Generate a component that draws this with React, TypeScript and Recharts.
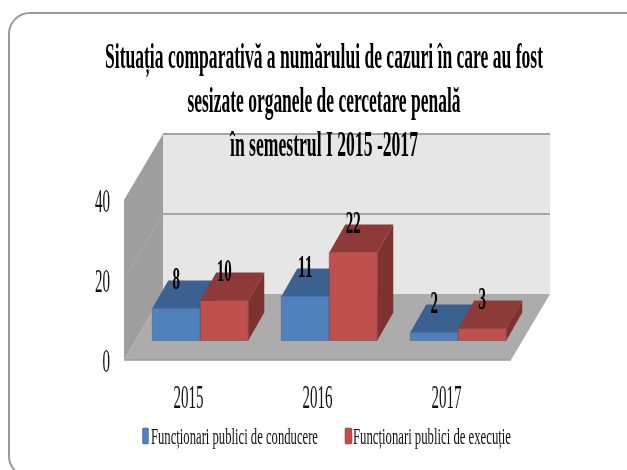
import { Bar, BarChart, LabelList, Legend, XAxis, YAxis, usePlotArea } from "recharts";

const categories = ["2015", "2016", "2017"];
const conducere = [8, 11, 2];
const executie = [10, 22, 3];
const yTicks = [0, 20, 40];
const seriesNames = ["Funcționari publici de conducere", "Funcționari publici de execuție"];
const titleLines = [
  "Situația comparativă a numărului de cazuri în care au fost",
  "sesizate organele de cercetare penală",
  "în semestrul I 2015 -2017",
];

const data = categories.map((year, i) => ({
  year,
  conducere: conducere[i],
  executie: executie[i],
}));

const YMAX = 40;
const WALL_DX = 39;
const WALL_DY = -66;
const BAR_DX = 11.5;
const BAR_DY = -19.5;
const BOX_DX = 16;
const BOX_DY = -28;
const SERIF = "'Liberation Serif', serif";

// squeezed text: the reference is a horizontally compressed picture
function Squeezed(props: any) {
  const { x, y, width, sx = 0.55, anchor = "middle", size, weight = "normal", fill = "#111", children } = props;
  return (
    <text
      transform={`translate(${x},${y}) scale(${sx},1)`}
      textAnchor={anchor}
      fontFamily={SERIF}
      fontSize={size}
      fontWeight={weight}
      fill={fill}
      textLength={width / sx}
      lengthAdjust="spacingAndGlyphs"
    >
      {children}
    </text>
  );
}

function Walls() {
  const plot = usePlotArea();
  if (!plot) return null;
  const left = plot.x;
  const right = plot.x + plot.width;
  const bottom = plot.y + plot.height;
  const top = plot.y;
  const mid = top + plot.height / 2;
  const backL = left + WALL_DX;
  const backR = right + WALL_DX;
  return (
    <g>
      <polygon
        points={`${backL},${top + WALL_DY} ${backR},${top + WALL_DY} ${backR},${bottom + WALL_DY} ${backL},${bottom + WALL_DY}`}
        fill="#e6e6e6"
      />
      <polygon
        points={`${left},${top} ${backL},${top + WALL_DY} ${backL},${bottom + WALL_DY} ${left},${bottom}`}
        fill="#9e9e9e"
      />
      <polygon
        points={`${left},${bottom} ${right},${bottom} ${backR},${bottom + WALL_DY} ${backL},${bottom + WALL_DY}`}
        fill="#acacac"
      />
      <line x1={backL} y1={top + WALL_DY} x2={backR} y2={top + WALL_DY} stroke="#a3a3a3" strokeWidth={2} />
      <line x1={backL} y1={mid + WALL_DY} x2={backR} y2={mid + WALL_DY} stroke="#a3a3a3" strokeWidth={2} />
      <line x1={left} y1={mid} x2={backL} y2={mid + WALL_DY} stroke="#aaaaaa" strokeWidth={1} />
      <line x1={left} y1={bottom} x2={right} y2={bottom} stroke="#9a9a9a" strokeWidth={1.5} />
    </g>
  );
}

function Box(props: any) {
  const { x, y, width, height, front, roof, side } = props;
  const l = x + BAR_DX;
  const r = l + width;
  const t = y + BAR_DY;
  const b = t + height;
  return (
    <g>
      <polygon points={`${l},${t} ${r},${t} ${r + BOX_DX},${t + BOX_DY} ${l + BOX_DX},${t + BOX_DY}`} fill={roof} />
      <polygon points={`${r},${t} ${r + BOX_DX},${t + BOX_DY} ${r + BOX_DX},${b + BOX_DY} ${r},${b}`} fill={side} />
      <rect x={l} y={t} width={width} height={height} fill={front} stroke={side} strokeOpacity={0.45} strokeWidth={1} />
    </g>
  );
}

function BoxLabel(props: any) {
  const { x, y, width, value } = props;
  const text = String(value);
  return (
    <Squeezed
      x={x + BAR_DX + width / 2}
      y={y + BAR_DY - 20}
      size={32}
      weight="bold"
      fill="#000"
      width={text.length * 7.5}
    >
      {text}
    </Squeezed>
  );
}

function YTick(props: any) {
  const { x, y, payload } = props;
  const text = String(payload.value);
  return (
    <Squeezed x={x - 2} y={y + 12} anchor="end" size={33} width={text.length * 7.5}>
      {text}
    </Squeezed>
  );
}

function XTick(props: any) {
  const { x, y, payload } = props;
  return (
    <Squeezed x={x} y={y + 40} size={33} width={30}>
      {payload.value}
    </Squeezed>
  );
}

function LegendRow() {
  return (
    <svg width={627} height={30} style={{ display: "block" }}>
      <rect x={142.5} y={7} width={6} height={16} rx={1} fill="#4f81bd" stroke="#3b6190" strokeWidth={0.5} />
      <Squeezed x={151} y={23} anchor="start" size={24} width={167}>
        {seriesNames[0]}
      </Squeezed>
      <rect x={345} y={7} width={7} height={16} rx={1} fill="#c0504d" stroke="#8e3a38" strokeWidth={0.5} />
      <Squeezed x={353} y={23} anchor="start" size={24} width={158}>
        {seriesNames[1]}
      </Squeezed>
    </svg>
  );
}

function Title() {
  const baselines = [68, 112, 156];
  const widths = [438, 273, 188];
  return (
    <g>
      {titleLines.map((line, i) => (
        <Squeezed key={line} x={324} y={baselines[i]} size={35} weight="bold" fill="#000" width={widths[i]} sx={0.5}>
          {line}
        </Squeezed>
      ))}
    </g>
  );
}

export default function App() {
  return (
    <div style={{ position: "absolute", left: 0, top: 0, width: 627, height: 470, background: "#fff", overflow: "hidden" }}>
      <div
        style={{
          position: "absolute",
          left: 8,
          top: 12,
          width: 640,
          height: 466,
          boxSizing: "border-box",
          border: "2px solid #999",
          borderRadius: 22,
        }}
      />
      <div style={{ position: "absolute", left: 0, top: 0, filter: "blur(0.4px)" }}>
        <BarChart
          width={627}
          height={470}
          data={data}
          margin={{ top: 200, right: 116, bottom: 40, left: 64 }}
          barCategoryGap="13%"
          barGap={0}
        >
          <Walls />
          <XAxis dataKey="year" height={40} axisLine={false} tickLine={false} tick={<XTick />} interval={0} />
          <YAxis
            domain={[0, YMAX]}
            ticks={yTicks}
            width={60}
            axisLine={false}
            tickLine={false}
            tick={<YTick />}
            tickMargin={6}
          />
          <Bar
            dataKey="conducere"
            name={seriesNames[0]}
            isAnimationActive={false}
            shape={<Box front="#4f81bd" roof="#3b6190" side="#385d8a" />}
          >
            <LabelList dataKey="conducere" content={<BoxLabel />} />
          </Bar>
          <Bar
            dataKey="executie"
            name={seriesNames[1]}
            isAnimationActive={false}
            shape={<Box front="#c0504d" roof="#8e3a38" side="#7d3230" />}
          >
            <LabelList dataKey="executie" content={<BoxLabel />} />
          </Bar>
          <Title />
          <Legend
            content={<LegendRow />}
            wrapperStyle={{ left: 0, top: 421, width: 627, height: 30 }}
          />
        </BarChart>
      </div>
    </div>
  );
}
